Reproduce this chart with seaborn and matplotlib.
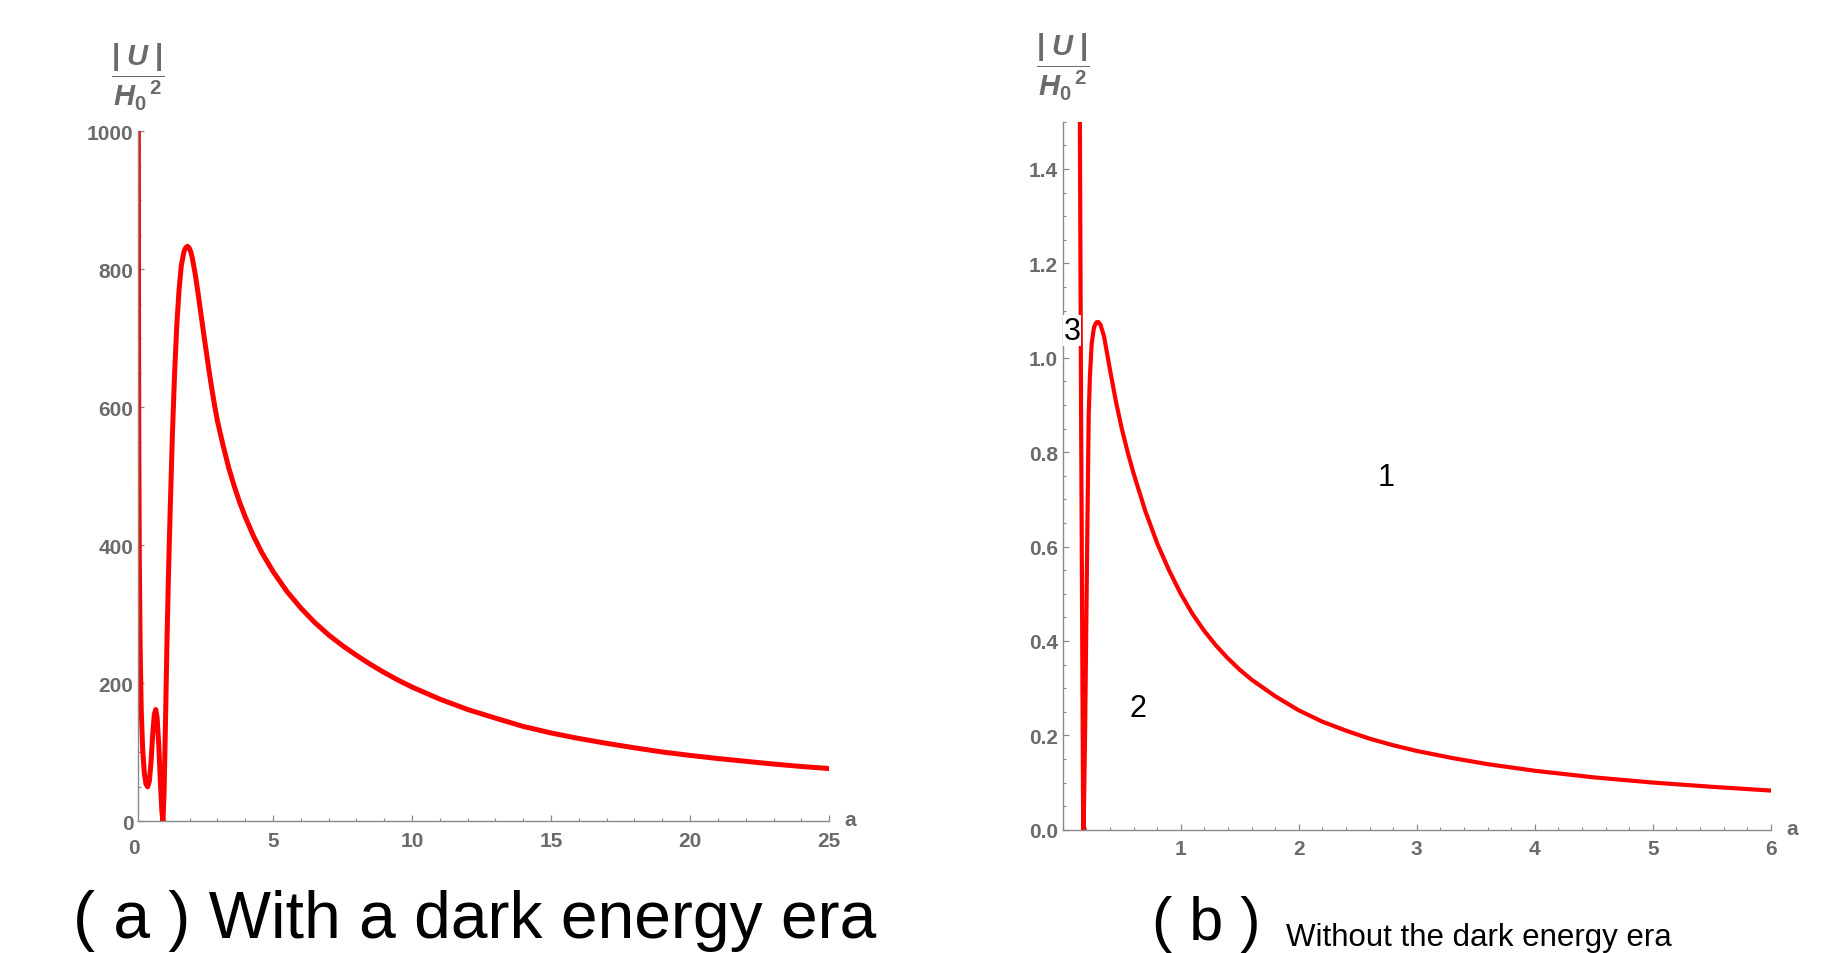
import numpy as np
import matplotlib.pyplot as plt
import seaborn as sns
from matplotlib.ticker import MultipleLocator, FormatStrFormatter

sns.set_theme(style='white')
plt.rcParams['font.family'] = ['Liberation Sans', 'DejaVu Sans']
plt.rcParams['mathtext.fontset'] = 'custom'
plt.rcParams['mathtext.rm'] = 'Liberation Sans:bold'
plt.rcParams['mathtext.it'] = 'Liberation Sans:bold:italic'
plt.rcParams['mathtext.bf'] = 'Liberation Sans:bold'

# (a) with a dark energy era: |U|/H0^2 against a
a_left = [0.155, 0.16, 0.17, 0.19, 0.22, 0.26, 0.31, 0.37, 0.43, 0.49, 0.55, 0.61,
          0.67, 0.73, 0.78, 0.83, 0.89, 0.95, 1.00, 1.04, 1.08, 1.13, 1.18, 1.24,
          1.30, 1.38, 1.46, 1.54, 1.62, 1.70, 1.80, 1.86, 1.92, 1.98, 2.05, 2.1,
          2.2, 2.3, 2.4, 2.5, 2.6, 2.7, 2.8, 2.9, 3.0, 3.2, 3.4, 3.6, 3.8, 4.0,
          4.3, 4.6, 5.0, 5.5, 6.0, 6.5, 7.0, 7.5, 8.0, 8.5, 9.0, 9.5, 10, 11, 12,
          13, 14, 15, 16, 17, 18, 19, 20, 21, 22, 23, 24, 25]
u_left = [1000, 780, 560, 380, 250, 160, 105, 70, 54, 50, 58, 85,
          125, 155, 162, 150, 110, 55, 15, 0, 40, 140, 250, 360,
          450, 560, 650, 720, 770, 805, 826, 831, 833, 831, 824, 815,
          793, 766, 737, 708, 680, 652, 626, 602, 580, 545, 513, 486, 462, 441,
          413, 389, 362, 333, 309, 288, 270, 254.5, 240.5, 227.5, 215.5, 204.5, 194.5,
          177, 162, 149.5, 137.5, 128, 120, 113, 106.5, 100.5, 95.5, 91, 87, 83,
          79.5, 76.5]

# (b) without the dark energy era
a_right = [0.145, 0.150, 0.155, 0.165, 0.172, 0.175, 0.18, 0.19, 0.20, 0.21, 0.22,
           0.23, 0.245, 0.265, 0.285, 0.30, 0.32, 0.35, 0.40, 0.45, 0.50, 0.55, 0.60,
           0.70, 0.80, 0.90, 1.0, 1.1, 1.2, 1.3, 1.4, 1.5, 1.6, 1.8, 2.0, 2.2, 2.4,
           2.6, 2.8, 3.0, 3.3, 3.6, 4.0, 4.5, 5.0, 5.5, 6.0]
u_right = [1.50, 1.20, 0.90, 0.40, 0.05, 0.0, 0.05, 0.22, 0.45, 0.67, 0.88,
           0.96, 1.03, 1.065, 1.075, 1.076, 1.07, 1.045, 0.975, 0.908, 0.850, 0.800,
           0.755, 0.675, 0.607, 0.550, 0.500, 0.457, 0.421, 0.390, 0.363, 0.339, 0.318,
           0.283, 0.253, 0.229, 0.210, 0.193, 0.179, 0.167, 0.152, 0.139, 0.125, 0.111,
           0.100, 0.091, 0.083]

region_labels = ['1', '2', '3']
region_a = [2.74, 0.64, 0.08]
region_u = [0.747, 0.259, 1.057]

gray = '#6b6b6b'
ylab = r'$\dfrac{|\;U\;|}{H_0{}^{\,2}}$'

fig = plt.figure(figsize=(18.47, 9.54), dpi=100)
ax1 = fig.add_axes([0.0749, 0.138, 0.374, 0.7236])
ax2 = fig.add_axes([0.5754, 0.1292, 0.3833, 0.7421])

sns.lineplot(x=a_left, y=u_left, ax=ax1, color='red', linewidth=3.6, sort=False)
sns.lineplot(x=a_right, y=u_right, ax=ax2, color='red', linewidth=3.0, sort=False)

ax1.set_xlim(0.155, 25)
ax1.set_ylim(0, 1000)
ax1.set_xticks([5, 10, 15, 20, 25])
ax1.xaxis.set_minor_locator(MultipleLocator(1))
ax1.set_yticks([0, 200, 400, 600, 800, 1000])
ax1.yaxis.set_minor_locator(MultipleLocator(50))
ax1.text(0, -0.024, '0', transform=ax1.get_xaxis_transform(), ha='center', va='top',
         fontsize=15, fontweight='bold', color=gray, clip_on=False)

ax2.set_xlim(0, 6)
ax2.set_ylim(0, 1.5)
ax2.set_xticks([1, 2, 3, 4, 5, 6])
ax2.xaxis.set_minor_locator(MultipleLocator(0.2))
ax2.set_yticks(np.arange(0, 1.41, 0.2))
ax2.yaxis.set_minor_locator(MultipleLocator(0.05))
ax2.yaxis.set_major_formatter(FormatStrFormatter('%.1f'))

for ax in (ax1, ax2):
    for s in ('top', 'right'):
        ax.spines[s].set_visible(False)
    for s in ('left', 'bottom'):
        ax.spines[s].set_color('#8a8a8a')
        ax.spines[s].set_linewidth(1.0)
    ax.tick_params(which='major', direction='in', length=4.5, width=0.9, color='#8a8a8a',
                   labelsize=15, labelcolor=gray, bottom=True, left=True)
    ax.tick_params(which='minor', direction='in', length=2.5, width=0.8, color='#8a8a8a',
                   bottom=True, left=True)
    ax.tick_params(axis='x', which='major', pad=7)
    ax.tick_params(axis='y', which='major', pad=3.5)
    for lab in ax.get_xticklabels() + ax.get_yticklabels():
        lab.set_fontweight('bold')
    ax.set_xlabel('')
    ax.set_ylabel('')
    ax.annotate('a', xy=(1, 0), xycoords='axes fraction', xytext=(11, 1),
                textcoords='offset points', ha='left', va='center',
                fontsize=15, fontweight='bold', color=gray)
    ax.annotate(ylab, xy=(0, 1), xycoords='axes fraction', xytext=(0, 14),
                textcoords='offset points', ha='center', va='bottom',
                fontsize=21, color=gray)

for lab, xa, yu in zip(region_labels, region_a, region_u):
    ax2.text(xa, yu, lab, ha='center', va='center', fontsize=22, color='black',
             bbox=dict(facecolor='white', edgecolor='none', pad=0.5) if lab == '3' else None)

fig.text(73 / 1847, 1 - 921 / 954, '( a ) With a dark energy era', fontsize=47.5,
         color='black', ha='left', va='center')
fig.text(1152 / 1847, 1 - 925 / 954, '( b )', fontsize=44, color='black',
         ha='left', va='center')
fig.text(1286 / 1847, 1 - 938 / 954, 'Without the dark energy era', fontsize=22.5,
         color='black', ha='left', va='center')

fig.savefig('out.png', dpi=100)
